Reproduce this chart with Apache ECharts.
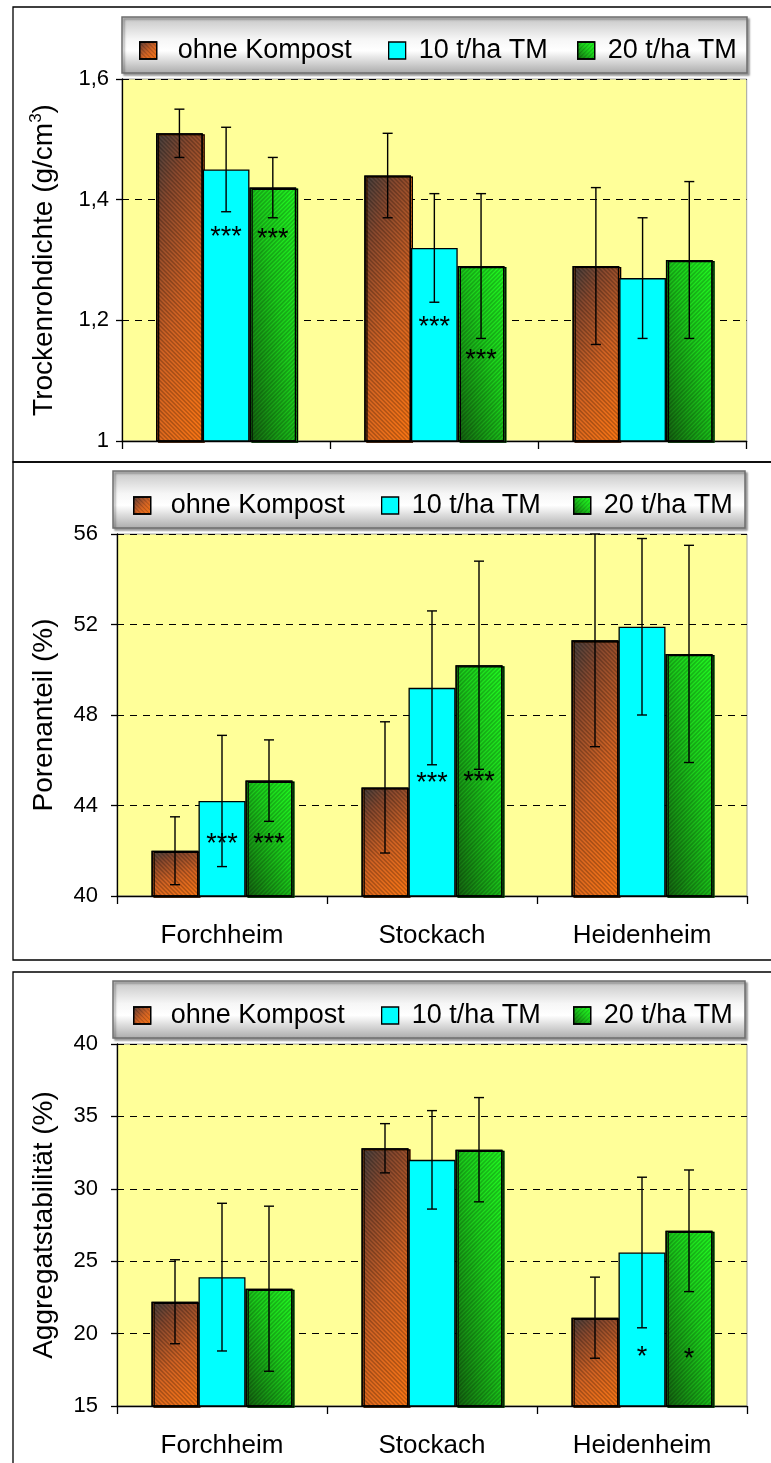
<!DOCTYPE html>
<html><head><meta charset="utf-8">
<script src="https://cdn.jsdelivr.net/npm/echarts@6/dist/echarts.min.js"></script>
<style>html,body{margin:0;padding:0;background:#fff}#c{width:771px;height:1463px}</style>
</head><body><div id="c"></div>
<script>
// ---------- data ----------
const categories = ['Forchheim', 'Stockach', 'Heidenheim'];
const seriesNames = ['ohne Kompost', '10 t/ha TM', '20 t/ha TM'];

// Panel 1: Trockenrohdichte (g/cm3)
const dens_ohne = [1.51, 1.44, 1.29];
const dens_10 = [1.45, 1.32, 1.27];
const dens_20 = [1.42, 1.29, 1.30];
const densErr_ohne = [0.04, 0.07, 0.13];
const densErr_10 = [0.07, 0.09, 0.10];
const densErr_20 = [0.05, 0.12, 0.13];
const densSig_10 = ['***', '***', ''];
const densSig_20 = ['***', '***', ''];
const densSigAt_10 = [1.345, 1.197, null];
const densSigAt_20 = [1.343, 1.142, null];
const densTicks = ['1', '1,2', '1,4', '1,6'];

// Panel 2: Porenanteil (%)
const pore_ohne = [42.0, 44.8, 51.3];
const pore_10 = [44.2, 49.2, 51.9];
const pore_20 = [45.1, 50.2, 50.7];
const poreErr_ohne = [1.5, 2.9, 4.7];
const poreErr_10 = [2.9, 3.4, 3.9];
const poreErr_20 = [1.8, 4.6, 4.8];
const poreSig_10 = ['***', '***', ''];
const poreSig_20 = ['***', '***', ''];
const poreSigAt_10 = [42.5, 45.2, null];
const poreSigAt_20 = [42.5, 45.25, null];
const poreTicks = ['40', '44', '48', '52', '56'];

// Panel 3: Aggregatstabilität (%)
const agg_ohne = [22.2, 32.8, 21.1];
const agg_10 = [23.9, 32.0, 25.6];
const agg_20 = [23.1, 32.7, 27.1];
const aggErr_ohne = [2.9, 1.7, 2.8];
const aggErr_10 = [5.1, 3.4, 5.2];
const aggErr_20 = [5.7, 3.6, 4.2];
const aggSig_10 = ['', '', '*'];
const aggSig_20 = ['', '', '*'];
const aggSigAt_10 = [null, null, 18.7];
const aggSigAt_20 = [null, null, 18.55];
const aggTicks = ['15', '20', '25', '30', '35', '40'];

// ---------- styling ----------
const FONT = "'Liberation Sans', Arial, sans-serif";
const stripe = (rot) => ({
  symbol: 'rect', symbolSize: 1, color: 'rgba(0,0,0,0.2)',
  dashArrayX: [1, 0], dashArrayY: [1, 2], rotation: rot
});
const orangeStops = [
  {offset: 0, color: '#424040'}, {offset: 0.22, color: '#8c4a2e'},
  {offset: 0.55, color: '#d46424'}, {offset: 1, color: '#ff7814'}];
const greenStops = [
  {offset: 0, color: '#146010'}, {offset: 0.3, color: '#18a016'},
  {offset: 0.58, color: '#1cd41c'}, {offset: 1, color: '#22ff22'}];

// Office-like gradient that is stretched over the bar box:
// t = a*x/w + b*y/h  (origin at top-left or bottom-left corner)
function officeGrad(stops, a, b, fromBottom, w, h) {
  const d = a * a / (w * w) + b * b / (h * h);
  const gx = (a / (w * w)) / d;
  const gy = (b / (h * h)) / d;
  return fromBottom
    ? {type: 'linear', x: 0, y: 1, x2: gx, y2: 1 - gy, colorStops: stops}
    : {type: 'linear', x: 0, y: 0, x2: gx, y2: gy, colorStops: stops};
}
const baseStyles = [
  { color: officeGrad(orangeStops, 0.5, 0.5, false, 1, 1),
    borderColor: '#000', borderWidth: 1.3, decal: stripe(Math.PI / 4),
    shadowColor: '#ff7a20', shadowOffsetX: 2, shadowOffsetY: 1, shadowBlur: 0 },
  { color: '#00FFFF', borderColor: '#000', borderWidth: 1.3 },
  { color: officeGrad(greenStops, 0.5, 0.5, true, 1, 1),
    borderColor: '#000', borderWidth: 1.3, decal: stripe(-Math.PI / 4),
    shadowColor: '#22e022', shadowOffsetX: 2, shadowOffsetY: 1, shadowBlur: 0 }
];
function itemColor(k, w, h) {
  if (k === 0) return officeGrad(orangeStops, 0.3, 0.7, false, w, h);
  if (k === 2) return officeGrad(greenStops, 0.5, 0.5, true, w, h);
  return null;
}

const panels = [
  { vals: [dens_ohne, dens_10, dens_20], errs: [densErr_ohne, densErr_10, densErr_20],
    sigs: [null, densSig_10, densSig_20], sigAt: [null, densSigAt_10, densSigAt_20],
    ticks: densTicks, min: 1, max: 1.6, interval: 0.2,
    grid: {left: 122, top: 79, width: 624.7, height: 362}, bw: 46.7, showX: false,
    name: '{a|Trockenrohdichte (g/cm}{s|3}{a|)}', nameGap: 62, labelMargin: 13 },
  { vals: [pore_ohne, pore_10, pore_20], errs: [poreErr_ohne, poreErr_10, poreErr_20],
    sigs: [null, poreSig_10, poreSig_20], sigAt: [null, poreSigAt_10, poreSigAt_20],
    ticks: poreTicks, min: 40, max: 56, interval: 4,
    grid: {left: 117, top: 534, width: 630, height: 362}, bw: 47, showX: true,
    name: '{a|Porenanteil (%)}', nameGap: 57, labelMargin: 19 },
  { vals: [agg_ohne, agg_10, agg_20], errs: [aggErr_ohne, aggErr_10, aggErr_20],
    sigs: [null, aggSig_10, aggSig_20], sigAt: [null, aggSigAt_10, aggSigAt_20],
    ticks: aggTicks, min: 15, max: 40, interval: 5,
    grid: {left: 117, top: 1044, width: 630, height: 362}, bw: 47, showX: true,
    name: '{a|Aggregatstabilität (%)}', nameGap: 57, labelMargin: 19 }
];

const grids = [], xAxes = [], yAxes = [], series = [];
panels.forEach((P, p) => {
  grids.push(Object.assign({show: true, backgroundColor: '#FFFF99', borderColor: '#a0a0a0', borderWidth: 1}, P.grid));
  xAxes.push({
    type: 'category', gridIndex: p, data: categories, boundaryGap: true,
    axisLine: {lineStyle: {color: '#000', width: 1.3}},
    axisTick: {show: true, length: 8, lineStyle: {color: '#000', width: 1.3}},
    axisLabel: {show: P.showX, fontSize: 26, fontFamily: FONT, color: '#000', margin: 27},
    splitLine: {show: false}
  });
  yAxes.push({
    type: 'value', gridIndex: p, min: P.min, max: P.max, interval: P.interval,
    name: P.name, nameLocation: 'middle', nameGap: P.nameGap,
    nameTextStyle: {rich: {
      a: {fontSize: 28, fontFamily: FONT, color: '#000', lineHeight: 32},
      s: {fontSize: 17, fontFamily: FONT, color: '#000', lineHeight: 17, verticalAlign: 'top'}
    }},
    axisLine: {show: true, lineStyle: {color: '#000', width: 1.3}},
    axisTick: {show: true, length: 6, lineStyle: {color: '#000', width: 1.3}},
    axisLabel: {fontSize: 22, fontFamily: FONT, color: '#000', margin: P.labelMargin,
      formatter: (v) => P.ticks[Math.round((v - P.min) / P.interval)]},
    splitLine: {show: true, lineStyle: {color: '#000', type: [7, 6], width: 1}}
  });
  const pxPerUnit = P.grid.height / (P.max - P.min);
  P.vals.forEach((vals, k) => {
    series.push({
      type: 'bar', name: seriesNames[k], xAxisIndex: p, yAxisIndex: p,
      data: vals.map(v => {
        const c = itemColor(k, P.bw, Math.max(1, (v - P.min) * pxPerUnit));
        return c ? {value: v, itemStyle: {color: c}} : v;
      }),
      barWidth: P.bw, barGap: '0%', itemStyle: baseStyles[k], z: 2, silent: true
    });
  });
  P.vals.forEach((vals, k) => {
    const errs = P.errs[k], sigs = P.sigs[k], sigAt = P.sigAt[k], bw = P.bw;
    series.push({
      type: 'custom', xAxisIndex: p, yAxisIndex: p, z: 10, silent: true, clip: false,
      data: vals.map((m, i) => [i, m, errs[i]]),
      renderItem: (params, api) => {
        const i = api.value(0), m = api.value(1), e = api.value(2);
        const c = api.coord([i, m]);
        const x = c[0] + (k - 1) * bw;
        const yT = api.coord([i, m + e])[1], yB = api.coord([i, m - e])[1];
        const ls = {stroke: '#000', lineWidth: 1.4};
        const children = [
          {type: 'line', shape: {x1: x, y1: yT, x2: x, y2: yB}, style: ls},
          {type: 'line', shape: {x1: x - 5, y1: yT, x2: x + 5, y2: yT}, style: ls},
          {type: 'line', shape: {x1: x - 5, y1: yB, x2: x + 5, y2: yB}, style: ls}
        ];
        const di = params.dataIndex;
        if (sigs && sigs[di]) {
          const ys = api.coord([i, sigAt[di]])[1];
          children.push({type: 'text', style: {text: sigs[di], x: x, y: ys + 5,
            fontSize: 27, fontFamily: FONT, fill: '#000', align: 'center', verticalAlign: 'middle'}});
        }
        return {type: 'group', children};
      }
    });
  });
});

// legends (one item each, positioned as in the picture)
const legendPos = [
  {top: 37, items: [[139, 16], [388, 8], [577, 8]]},
  {top: 492, items: [[133, 15], [381, 8], [573, 8]]},
  {top: 1002, items: [[133, 15], [381, 8], [573, 8]]}
];
const legends = [];
legendPos.forEach(L => {
  L.items.forEach((it, k) => {
    legends.push({
      data: [seriesNames[k]], left: it[0], top: L.top, icon: 'rect',
      itemWidth: 17, itemHeight: 17, itemGap: 0, selectedMode: false, padding: 0, z: 6,
      itemStyle: {borderColor: '#000', borderWidth: 1.3, shadowBlur: 0, shadowOffsetX: 0, shadowOffsetY: 0, shadowColor: 'transparent'},
      textStyle: {fontSize: 27, fontFamily: FONT, color: '#000', lineHeight: 17, padding: [0, 0, 0, it[1]]}
    });
  });
});

const legendBoxFill = {type: 'linear', x: 0, y: 0, x2: 0, y2: 1, colorStops: [
  {offset: 0, color: '#c4c4c4'}, {offset: 0.4, color: '#f6f6f6'}, {offset: 0.6, color: '#ffffff'}, {offset: 1, color: '#aaaaaa'}]};
const boxStyle = {fill: legendBoxFill, stroke: '#6e6e6e', lineWidth: 1.5,
  shadowColor: 'rgba(0,0,0,0.35)', shadowOffsetX: 2, shadowOffsetY: 2, shadowBlur: 2};
const frame = {fill: 'none', stroke: '#000', lineWidth: 1.3};

const option = {
  animation: false,
  backgroundColor: '#fff',
  grid: grids, xAxis: xAxes, yAxis: yAxes, series: series, legend: legends,
  graphic: [
    {type: 'rect', shape: {x: 13, y: 7, width: 800, height: 455}, style: frame, z: 1, silent: true},
    {type: 'rect', shape: {x: 13, y: 462, width: 800, height: 498}, style: frame, z: 1, silent: true},
    {type: 'rect', shape: {x: 13, y: 972, width: 800, height: 600}, style: frame, z: 1, silent: true},
    {type: 'rect', shape: {x: 122, y: 17, width: 625, height: 56}, style: boxStyle, z: 1, silent: true},
    {type: 'rect', shape: {x: 113, y: 471, width: 632, height: 57}, style: boxStyle, z: 1, silent: true},
    {type: 'rect', shape: {x: 113, y: 981, width: 632, height: 57}, style: boxStyle, z: 1, silent: true}
  ]
};
const chart = echarts.init(document.getElementById('c'), null, {renderer: 'canvas'});
chart.setOption(option);
</script>
</body></html>
